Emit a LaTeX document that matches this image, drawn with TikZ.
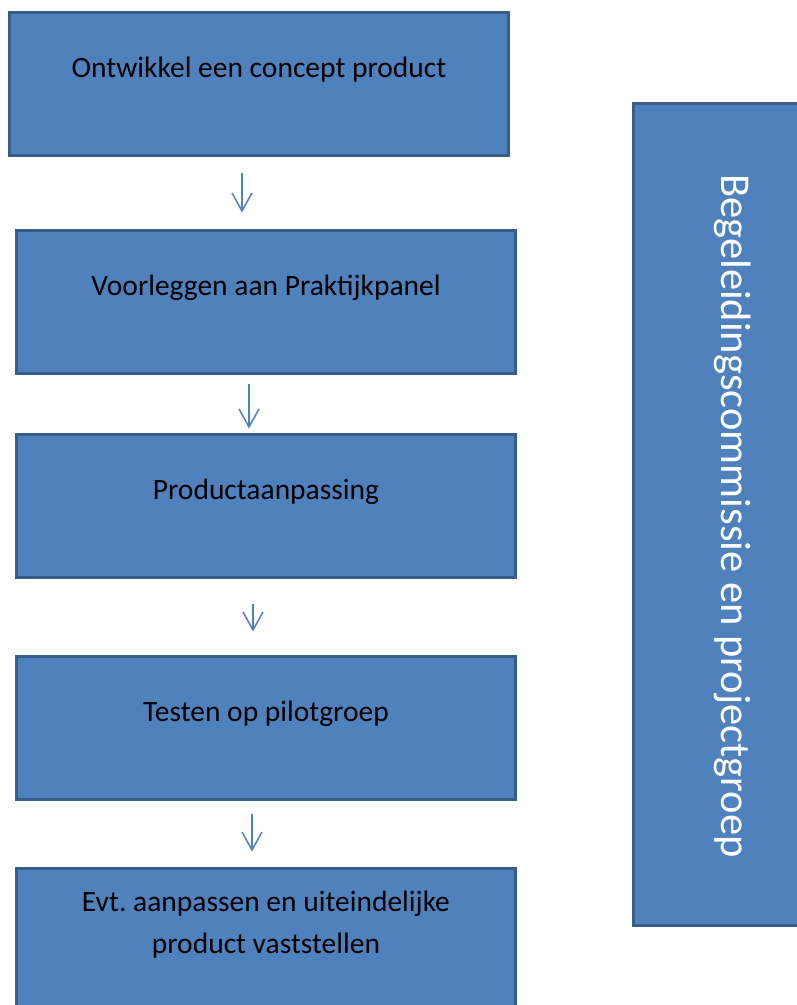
\documentclass[tikz,border=0pt]{standalone}
\usepackage{fontspec}
\setmainfont{Carlito}
\usetikzlibrary{arrows.meta,positioning}
\definecolor{boxfill}{HTML}{4F81BD}
\definecolor{boxedge}{HTML}{385D8A}

\begin{document}
\begin{tikzpicture}[x=1pt,y=1pt,
  stepbox/.style={draw=boxedge,fill=boxfill,line width=3pt,inner sep=0pt,
                  minimum width=499pt,minimum height=143pt},
  steptext/.style={font=\fontsize{29.5}{42}\selectfont,align=center},
  flow/.style={draw=boxfill,line width=1.5pt,
               -{Straight Barb[length=18pt,width=20pt]}}]
\useasboundingbox (0,0) rectangle (796,-1005);
% steps
\node[stepbox] (b1) at (259,-84) {};
\node[stepbox] (b2) at (266,-301.5) {};
\node[stepbox,below=58pt of b2] (b3) {};
\node[stepbox,below=76pt of b3] (b4) {};
\node[stepbox,below=66pt of b4] (b5) {};
\node[steptext] (t1) at ([yshift=-59pt]b1.north) {Ontwikkel een concept product};
\node[steptext] (t2) at ([yshift=-59pt]b2.north) {Voorleggen aan Praktijkpanel};
\node[steptext] (t3) at ([yshift=-59pt]b3.north) {Productaanpassing};
\node[steptext] (t4) at ([yshift=-59pt]b4.north) {Testen op pilotgroep};
\node[steptext] (t5) at ([yshift=-58pt]b5.north) {Evt.\ aanpassen en uiteindelijke\\product vaststellen};
% side box
\node[stepbox,minimum width=175pt,minimum height=822pt] (side) at (721,-514.5) {};
\node[rotate=-90,text=white,font=\fontsize{42.5}{48}\selectfont] (sidetext) at (733,-516)
  {Begeleidingscommissie en projectgroep};
% arrows
\draw[flow] ([xshift=-17pt,yshift=-16pt]b1.south) -- ([xshift=-24pt,yshift=16pt]b2.north);
\draw[flow] ([xshift=-17pt,yshift=-9pt]b2.south) -- ([xshift=-17pt,yshift=4pt]b3.north);
\draw[flow] ([xshift=-13pt,yshift=-25pt]b3.south) -- ([xshift=-13pt,yshift=23pt]b4.north);
\draw[flow] ([xshift=-14pt,yshift=-13pt]b4.south) -- ([xshift=-14pt,yshift=15pt]b5.north);
\end{tikzpicture}
\end{document}
